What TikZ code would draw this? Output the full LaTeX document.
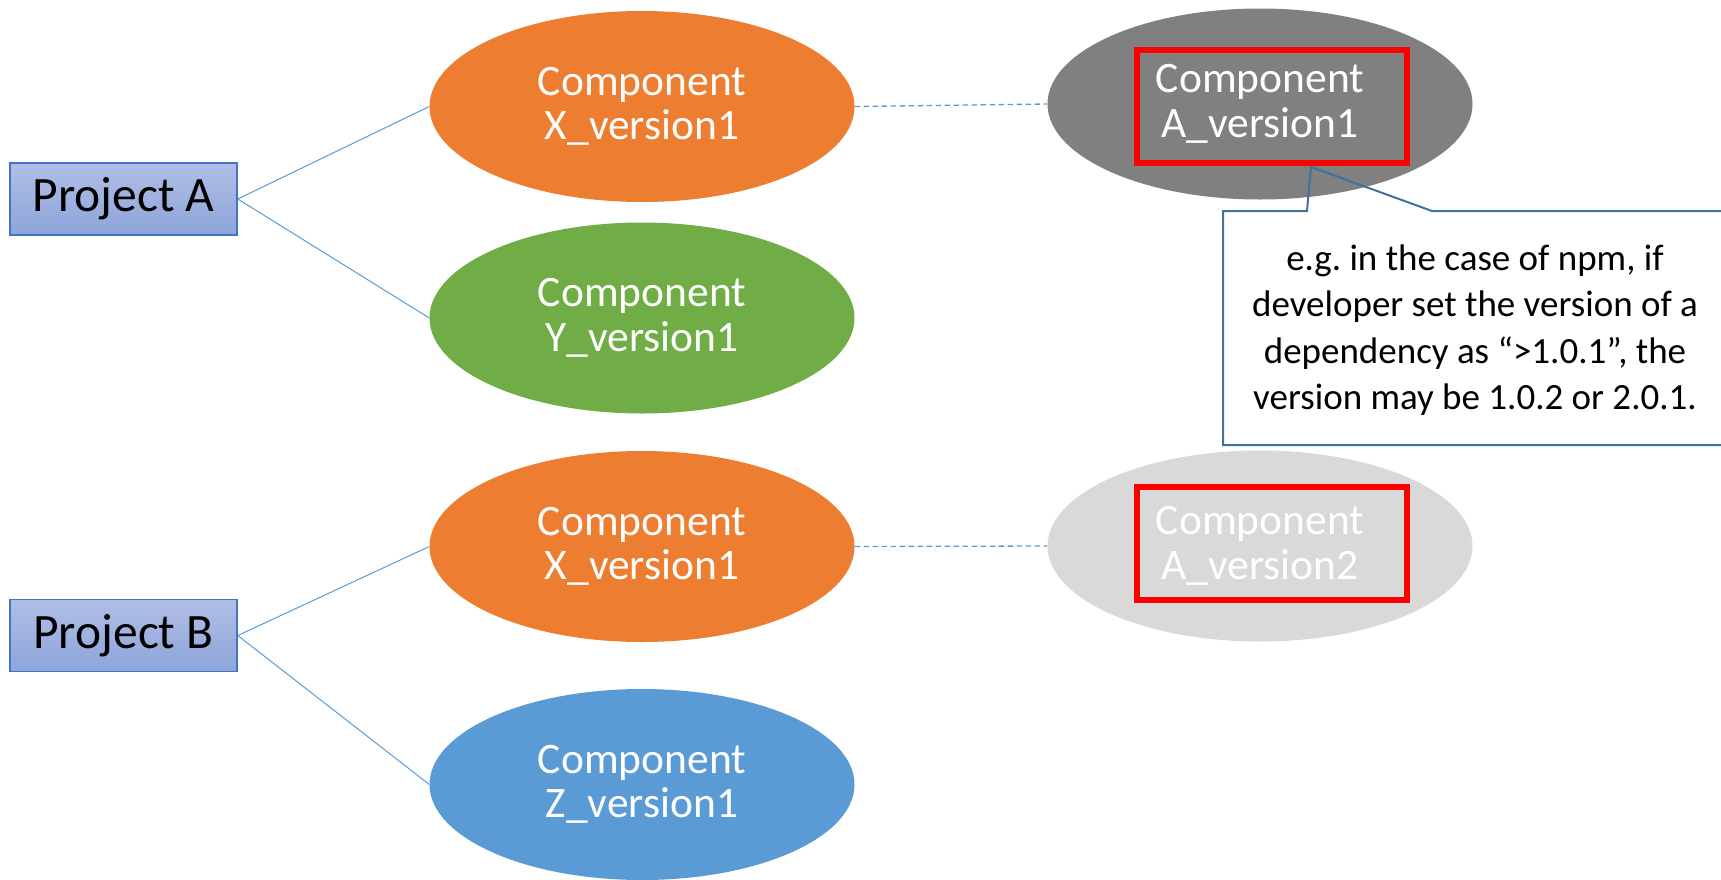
\documentclass[tikz,border=0pt]{standalone}
\usepackage{fontspec}
\setmainfont{Carlito}
\usetikzlibrary{shapes.geometric}
\definecolor{corange}{HTML}{ED7D31}
\definecolor{cgreen}{HTML}{70AD47}
\definecolor{cblue}{HTML}{5B9BD5}
\definecolor{cgray}{HTML}{808080}
\definecolor{clgray}{HTML}{D9D9D9}
\definecolor{cline}{HTML}{5B9BD5}
\definecolor{ccall}{HTML}{41719C}
\definecolor{pborder}{HTML}{4472C4}
\definecolor{ptop}{HTML}{B0BEE5}
\definecolor{pbot}{HTML}{8DA5DA}
\frenchspacing
\begin{document}
\begin{tikzpicture}[x=1pt,y=-1pt,
  comp/.style={ellipse, minimum width=425pt, minimum height=191pt, inner sep=0pt,
    text=white, align=center, font=\fontsize{43.5}{44.5}\selectfont},
  proj/.style={rectangle, draw=pborder, line width=1.5pt, top color=ptop, bottom color=pbot,
    minimum width=227pt, minimum height=72pt, inner sep=0pt, font=\fontsize{49.5}{50}\selectfont},
  redbox/.style={rectangle, draw=red, line width=6pt, minimum width=270pt, minimum height=113pt, inner sep=0pt},
  conn/.style={draw=cline, line width=1pt},
  dconn/.style={draw=cline, line width=1.3pt, dash pattern=on 5.5pt off 3.5pt},
  callline/.style={draw=ccall, line width=2pt, line join=miter}
]
\useasboundingbox (0,0) rectangle (1721,879);

% projects
\node[proj] (pa) at (123.5,199) {Project A};
\node[proj] (pb) at (123.5,635.5) {Project B};

% components
\node[comp, fill=corange] (xa) at (642,106.5) {Component\\X\_version1};
\node[comp, fill=cgreen] (ya) at (642,318) {Component\\Y\_version1};
\node[comp, fill=corange] (xb) at (642,546.5) {Component\\X\_version1};
\node[comp, fill=cblue] (zb) at (642,784.5) {Component\\Z\_version1};
\node[comp, fill=cgray] (a1) at (1260,104) {Component\\A\_version1};
\node[comp, fill=clgray] (a2) at (1260,546) {Component\\A\_version2};

% red highlight boxes
\node[redbox] (r1) at (1272,106.5) {};
\node[redbox] (r2) at (1272,543.5) {};

% connectors
\draw[conn] (pa.east) -- (xa.west);
\draw[conn] (pa.east) -- (ya.west);
\draw[conn] (pb.east) -- (xb.west);
\draw[conn] (pb.east) -- (zb.west);
\draw[dconn] (xa.east) -- (a1.west);
\draw[dconn] (xb.east) -- (a2.west);

% callout
\coordinate (tip) at (1311,167);
\coordinate (cbl) at (1223,445);
\coordinate (ctl) at (1223,211);
\coordinate (cl1) at (1307,211);
\coordinate (cl2) at (1432,211);
\coordinate (ctr) at (1727,211);
\coordinate (cbr) at (1727,445);
\draw[callline] (ctl) -- (cl1) -- (tip) -- (cl2) -- (ctr) -- (cbr) -- (cbl) -- cycle;
\node[align=center, font=\fontsize{37}{46.5}\selectfont, inner sep=0pt] (note) at (1475,330)
  {e.g. in the case of npm, if\\developer set the version of a\\dependency as “>1.0.1”, the\\version may be 1.0.2 or 2.0.1.};
\end{tikzpicture}
\end{document}
